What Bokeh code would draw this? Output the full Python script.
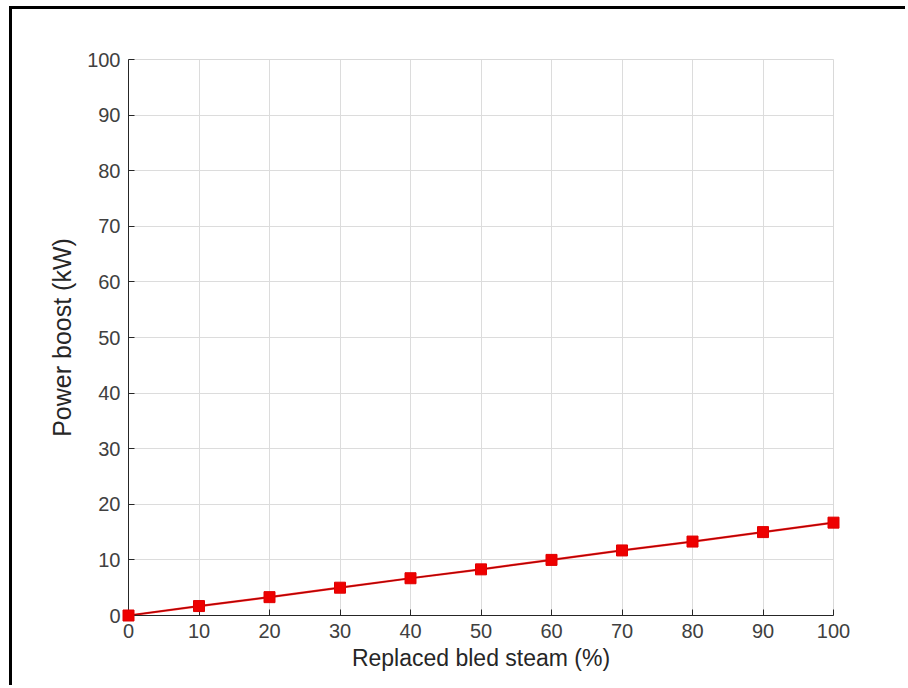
from bokeh.plotting import figure
from bokeh.models import Range1d, FixedTicker
from bokeh.embed import file_html
from bokeh.resources import INLINE

replaced_pct = [0, 10, 20, 30, 40, 50, 60, 70, 80, 90, 100]
power_boost_kw = [0, 1.7, 3.3, 5.0, 6.7, 8.3, 10.0, 11.7, 13.3, 15.0, 16.7]
x_ticks = [0, 10, 20, 30, 40, 50, 60, 70, 80, 90, 100]
y_ticks = [0, 10, 20, 30, 40, 50, 60, 70, 80, 90, 100]

p = figure(width=896, height=679, output_backend="svg", toolbar_location=None,
           x_range=Range1d(0, 100), y_range=Range1d(0, 100),
           min_border_left=116, min_border_right=75, min_border_top=50, min_border_bottom=73)
p.margin = (6, 0, 0, 9)
p.styles = {"border-left": "3px solid black", "border-top": "3px solid black"}

p.background_fill_color = "white"
p.border_fill_color = "white"
p.outline_line_color = "#d9d9d9"
p.outline_line_width = 1

for ax, ticks in ((p.xaxis[0], x_ticks), (p.yaxis[0], y_ticks)):
    ax.ticker = FixedTicker(ticks=ticks)
    ax.axis_line_color = "#262626"
    ax.axis_line_width = 1
    ax.major_tick_line_color = "#262626"
    ax.major_tick_in = 6
    ax.major_tick_out = 0
    ax.minor_tick_line_color = None
    ax.major_label_text_font = "Liberation Sans"
    ax.major_label_text_font_size = "20px"
    ax.major_label_text_color = "#404040"
    ax.major_label_standoff = 8
    ax.axis_label_text_font = "Liberation Sans"
    ax.axis_label_text_font_style = "normal"
    ax.axis_label_text_color = "#262626"

p.xaxis.axis_label = "Replaced bled steam (%)"
p.yaxis.axis_label = "Power boost (kW)"
p.xaxis.axis_label_text_font_size = "23px"
p.yaxis.axis_label_text_font_size = "25px"
p.xaxis.axis_label_standoff = 4
p.yaxis.axis_label_standoff = 8

p.grid.grid_line_color = "#dcdcdc"
p.grid.grid_line_width = 1

p.line(replaced_pct, power_boost_kw, line_color="#ff1a1a", line_width=2.2)
p.line(replaced_pct, power_boost_kw, line_color="#7a0000", line_width=0.8)
p.scatter(replaced_pct, power_boost_kw, marker="square", size=11,
          fill_color="#ee0000", line_color="#e00000", level="overlay")

open("out.html", "w").write(file_html(p, INLINE))
